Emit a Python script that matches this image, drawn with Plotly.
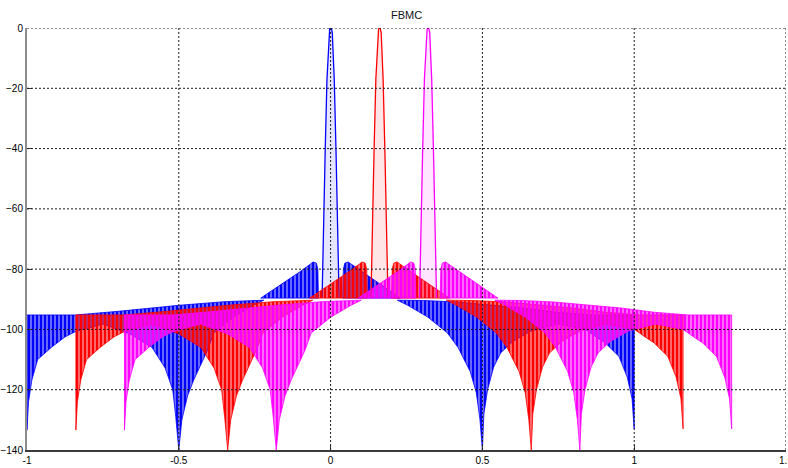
import plotly.graph_objects as go

# Subcarrier spectra of a filter-bank multicarrier (FBMC) signal
CARRIER_NAMES = ["carrier 1", "carrier 2", "carrier 3"]
CARRIER_CENTERS = [0.0, 0.161, 0.321]
CARRIER_COLORS = ["#0000ff", "#ff0000", "#ff00ff"]
CARRIER_RGB = ["0,0,255", "255,0,0", "255,0,255"]

# Main lobe outline: frequency offset from the carrier, level in dB
LOBE_OFF = [-0.028, -0.025, -0.018, -0.012, -0.0055, -0.003, 0.0, 0.003, 0.0055, 0.012, 0.018, 0.025, 0.028]
LOBE_DB = [-89.6, -72.0, -41.5, -17.0, -1.5, -0.3, 0.0, -0.3, -1.5, -17.0, -41.5, -72.0, -89.6]

# First sidelobes (upper edge), both sides; their floor sits at SIDE_FLOOR
SIDE_R_OFF = [0.040, 0.042, 0.047, 0.058, 0.066, 0.100, 0.150, 0.200, 0.230]
SIDE_R_DB = [-89.6, -80.0, -78.0, -77.6, -78.2, -80.6, -84.0, -87.5, -89.6]
SIDE_L_OFF = [-0.230, -0.200, -0.150, -0.100, -0.066, -0.058, -0.047, -0.042, -0.040]
SIDE_L_DB = [-89.6, -87.6, -84.2, -80.8, -78.3, -77.6, -78.0, -80.0, -89.6]
SIDE_FLOOR = -89.6

# Far skirt, right side: upper and lower envelope of the ripple
SKIRT_R_UP_OFF = [0.22, 0.306, 0.415, 0.527, 0.636, 0.745, 0.857, 1.0]
SKIRT_R_UP_DB = [-90.3, -90.4, -90.9, -91.9, -92.9, -94.3, -95.2, -95.2]
SKIRT_R_LO_OFF = [0.22, 0.254, 0.32, 0.385, 0.42, 0.46, 0.48, 0.492, 0.5, 0.505, 0.517,
                  0.537, 0.56, 0.60, 0.66, 0.75, 0.84, 0.875, 0.905, 0.95, 0.977, 0.993, 1.0]
SKIRT_R_LO_DB = [-90.3, -92.0, -95.9, -101.2, -106.0, -114.0, -121.0, -130.0, -140.0, -128.0, -120.0,
                 -112.5, -107.8, -104.0, -100.5, -98.2, -100.0, -102.5, -104.5, -109.0, -115.8, -123.0, -133.0]

# Far skirt, left side
SKIRT_L_UP_OFF = [-1.0, -0.84, -0.70, -0.50, -0.35, -0.22]
SKIRT_L_UP_DB = [-95.2, -95.2, -94.0, -92.0, -90.8, -90.3]
SKIRT_L_LO_OFF = [-1.0, -0.995, -0.984, -0.965, -0.918, -0.875, -0.842, -0.75, -0.66, -0.588, -0.545,
                  -0.52, -0.51, -0.5, -0.49, -0.471, -0.451, -0.405, -0.385, -0.32, -0.254, -0.22]
SKIRT_L_LO_DB = [-133.4, -124.0, -116.8, -110.0, -105.8, -102.5, -100.8, -98.2, -101.5, -106.0, -112.8,
                 -120.0, -129.0, -140.0, -130.0, -122.0, -116.8, -106.8, -101.2, -95.9, -92.0, -90.3]

X_TICKS = [-1, -0.5, 0, 0.5, 1, 1.5]
X_TICK_TEXT = ["-1", "-0.5", "0", "0.5", "1", "1.5"]
Y_TICKS = [0, -20, -40, -60, -80, -100, -120, -140]


def polygon(center, up_off, up_db, lo_off, lo_db):
    xs = [center + o for o in up_off] + [center + o for o in reversed(lo_off)]
    ys = list(up_db) + list(reversed(lo_db))
    return xs + [xs[0]], ys + [ys[0]]


fig = go.Figure()

for name, c, col, rgb in zip(CARRIER_NAMES, CARRIER_CENTERS, CARRIER_COLORS, CARRIER_RGB):
    pattern = dict(shape="|", size=4, solidity=0.55,
                   bgcolor=f"rgba({rgb},0.55)", fgcolor=col, fgopacity=1)

    # skirts (both sides in one trace, separated by a gap)
    xr, yr = polygon(c, SKIRT_R_UP_OFF, SKIRT_R_UP_DB, SKIRT_R_LO_OFF, SKIRT_R_LO_DB)
    xl, yl = polygon(c, SKIRT_L_UP_OFF, SKIRT_L_UP_DB, SKIRT_L_LO_OFF, SKIRT_L_LO_DB)
    fig.add_trace(go.Scatter(
        x=xl + [None] + xr, y=yl + [None] + yr, mode="lines", fill="toself",
        fillpattern=pattern, line=dict(color=col, width=0.8),
        name=name, showlegend=False, hoverinfo="skip"))

    # first sidelobes
    sxr, syr = polygon(c, SIDE_R_OFF, SIDE_R_DB, [SIDE_R_OFF[0], SIDE_R_OFF[-1]], [SIDE_FLOOR, SIDE_FLOOR])
    sxl, syl = polygon(c, SIDE_L_OFF, SIDE_L_DB, [SIDE_L_OFF[0], SIDE_L_OFF[-1]], [SIDE_FLOOR, SIDE_FLOOR])
    fig.add_trace(go.Scatter(
        x=sxl + [None] + sxr, y=syl + [None] + syr, mode="lines", fill="toself",
        fillpattern=pattern, line=dict(color=col, width=0.8),
        showlegend=False, hoverinfo="skip"))

    # main lobe
    fig.add_trace(go.Scatter(
        x=[c + o for o in LOBE_OFF], y=LOBE_DB, mode="lines", fill="toself",
        fillcolor=f"rgba({rgb},0.10)", line=dict(color=col, width=1.3),
        showlegend=False, hoverinfo="skip"))

# dotted grid drawn over the spectra
grid_style = dict(color="#1a1a1a", width=1, dash="2px,2px")
for xv in X_TICKS[1:]:
    fig.add_shape(type="line", xref="x", yref="y", x0=xv, x1=xv, y0=Y_TICKS[-1], y1=Y_TICKS[0],
                  line=grid_style, layer="above")
for yv in Y_TICKS[:-1]:
    fig.add_shape(type="line", xref="x", yref="y", x0=X_TICKS[0], x1=X_TICKS[-1], y0=yv, y1=yv,
                  line=grid_style, layer="above")

fig.update_layout(
    width=788, height=468,
    margin=dict(l=27, r=2, t=28, b=18, autoexpand=False),
    paper_bgcolor="white", plot_bgcolor="white",
    font=dict(family="Liberation Sans, Arial, sans-serif", size=10, color="#000000"),
    title=dict(text="FBMC", x=0.5, xref="paper", xanchor="center",
               y=1 - 15 / 468, yref="container", yanchor="middle",
               font=dict(size=11, color="#111111")),
    showlegend=False,
)
fig.update_xaxes(
    range=[-1, 1.5], tickvals=X_TICKS, ticktext=X_TICK_TEXT,
    ticklabeloverflow="allow", automargin=False,
    showgrid=False, zeroline=False, showline=True, linecolor="#3a3a3a", linewidth=1.5,
    ticks="inside", ticklen=5, tickcolor="#3a3a3a", layer="above traces",
)
fig.update_yaxes(
    range=[-140, 0], tickvals=Y_TICKS, automargin=False,
    showgrid=False, zeroline=False, showline=True, linecolor="#8c8c8c", linewidth=2,
    ticks="inside", ticklen=5, tickcolor="#3a3a3a", layer="above traces",
)

fig.write_html("out.html")
